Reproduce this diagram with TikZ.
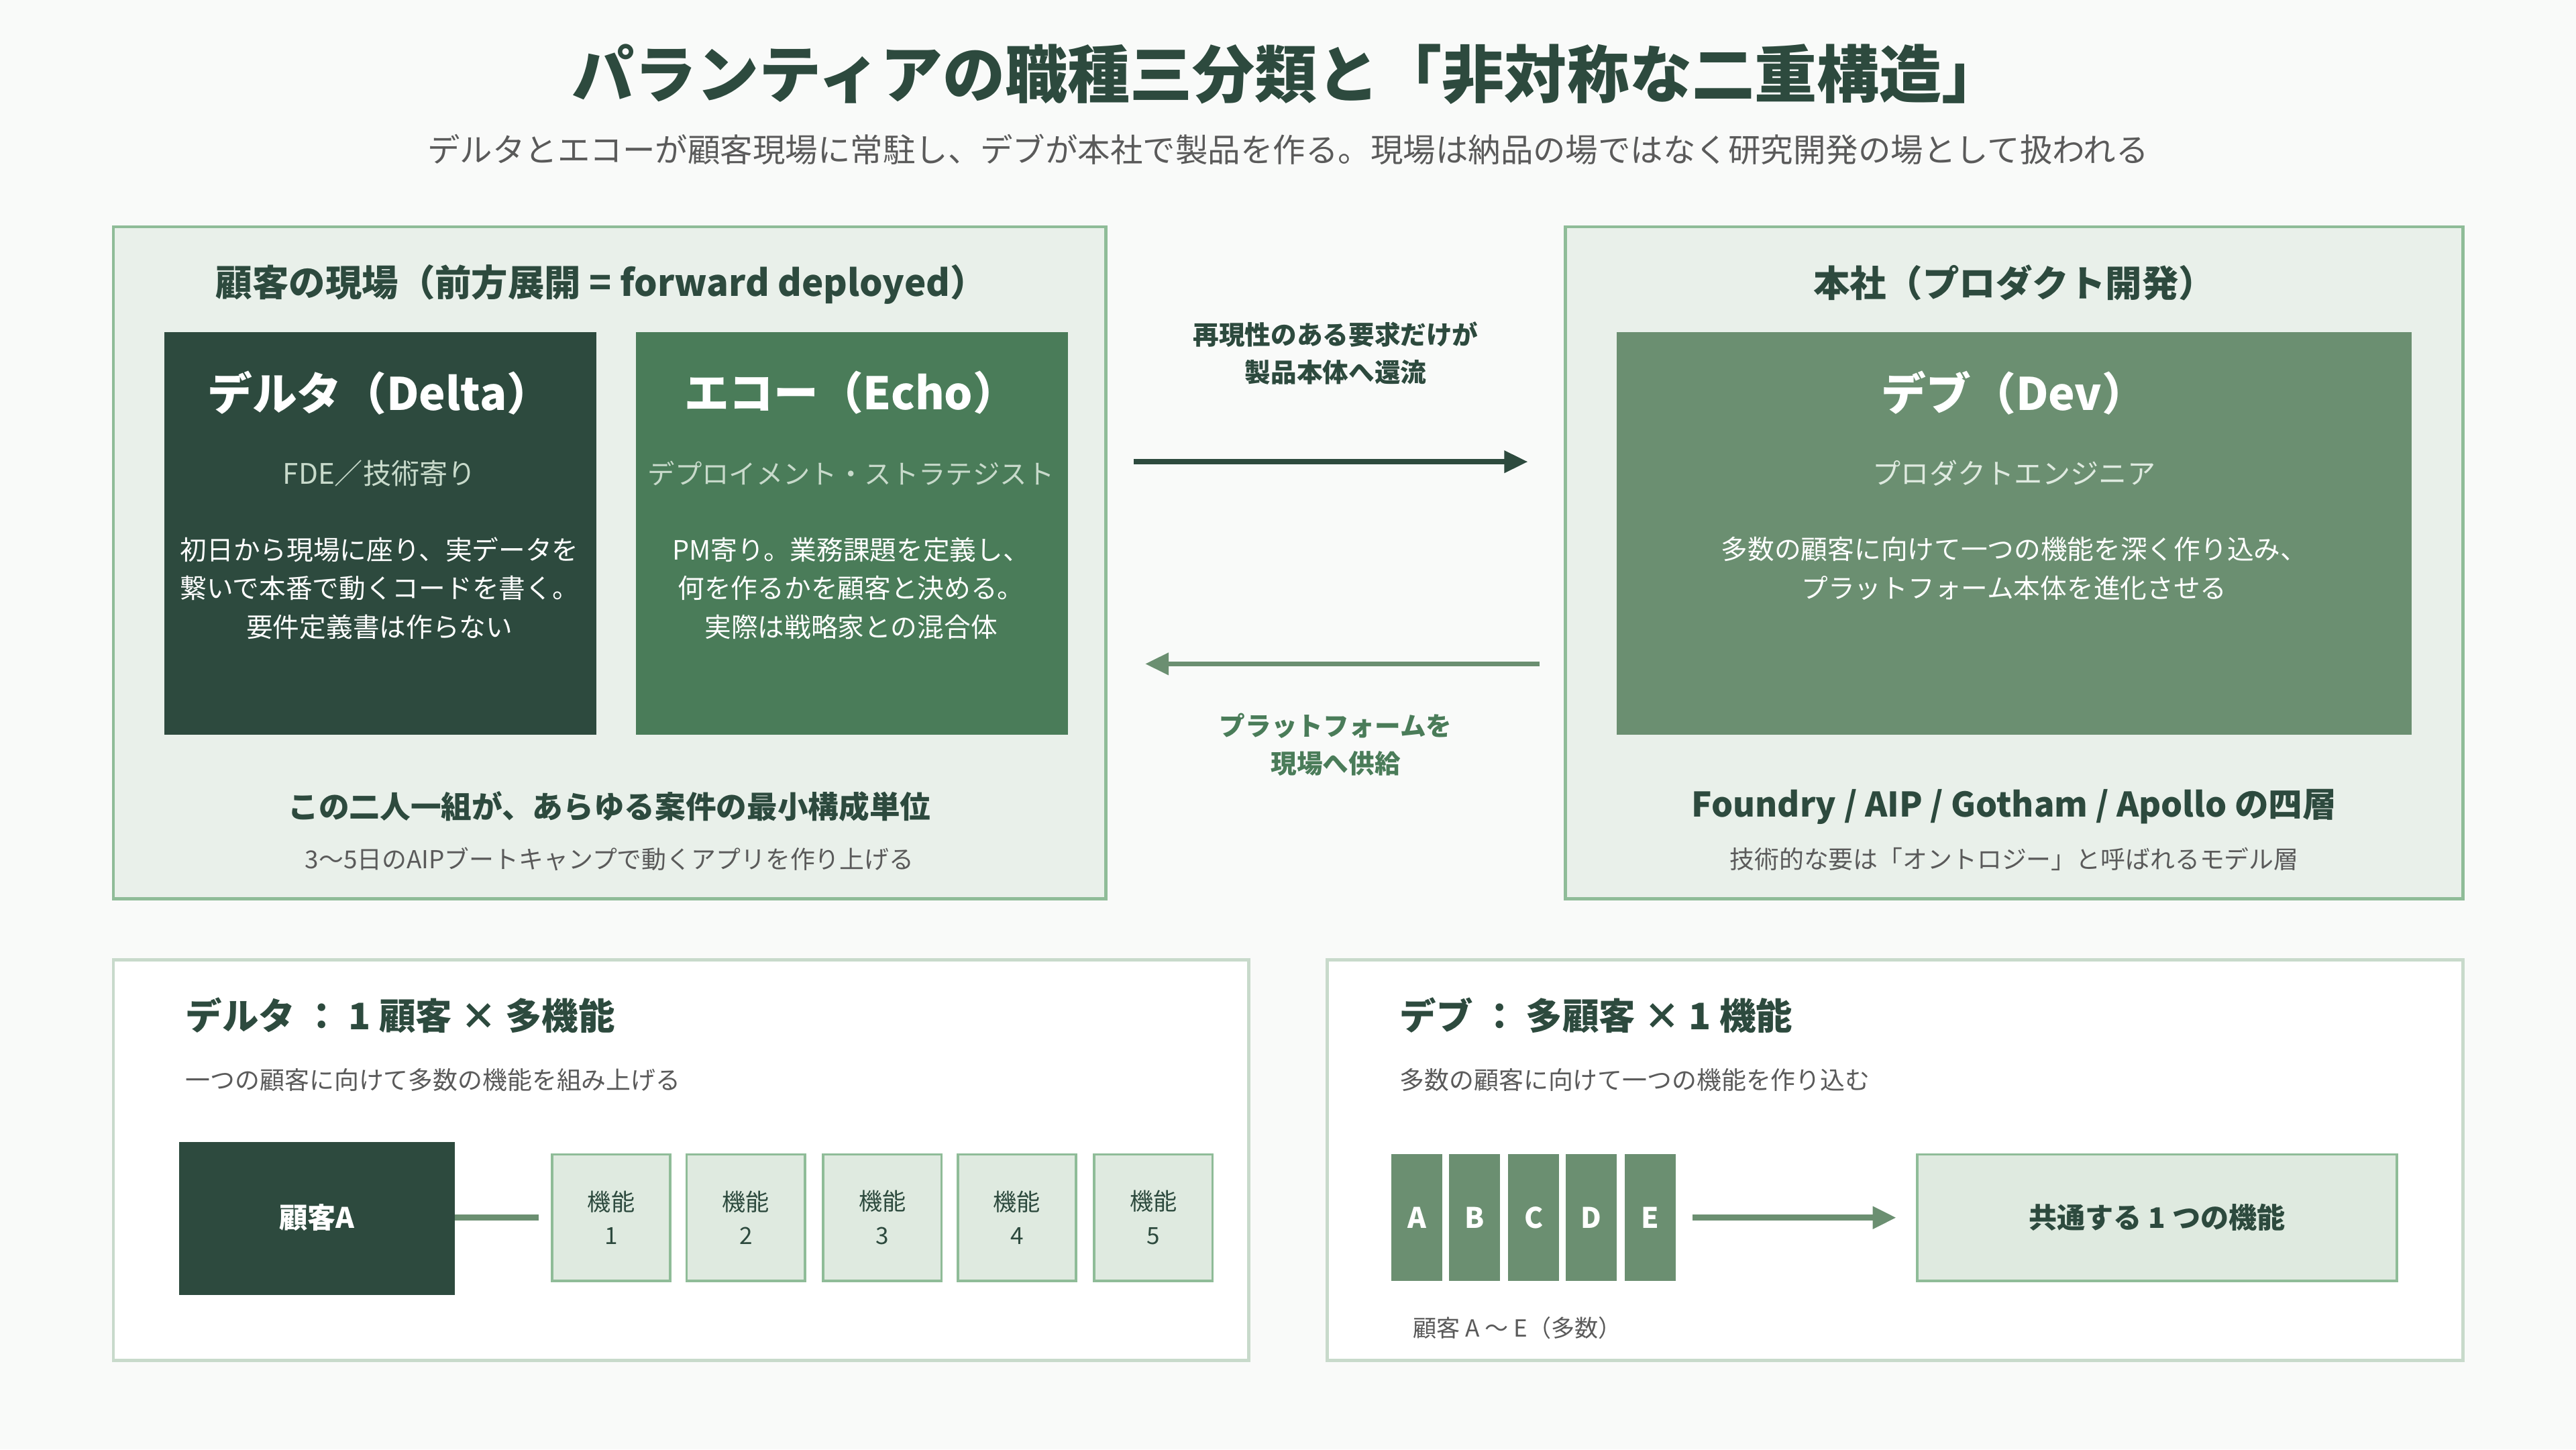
\documentclass[tikz,border=0pt]{standalone}
\usepackage{fontspec}
\setmainfont{Noto Sans CJK JP}
\usetikzlibrary{positioning,arrows.meta}
\definecolor{deep}{HTML}{2D4A3E}
\definecolor{mid}{HTML}{4A7C59}
\definecolor{sage}{HTML}{6B8F71}
\definecolor{pale}{HTML}{E9F0EA}
\definecolor{tint}{HTML}{DFEAE0}
\definecolor{rim}{HTML}{8FBC98}
\definecolor{haze}{HTML}{C8DACB}
\definecolor{ink}{HTML}{5A5A5A}
\definecolor{paper}{HTML}{F9FAF9}
\newcommand{\fs}[1]{\fontsize{#1}{\fpeval{#1*1.45}}\selectfont}
\tikzset{
  panel/.style={draw=rim, line width=1.4pt, fill=pale},
  card/.style={draw=haze, line width=1.4pt, fill=white},
  role/.style={inner sep=0pt, text=white},
  cell/.style={draw=rim, line width=1pt, fill=tint, inner sep=0pt, align=center, text=deep, font=\fs{10}},
  head/.style={font=\bfseries\fs{15.5}, text=deep},
  note/.style={font=\fs{10.5}, text=ink},
  flow/.style={line width=2.2pt, -{Triangle[length=10pt,width=9pt]}}
}
\begin{document}
\begin{tikzpicture}[x=0.0245cm, y=-0.0245cm]
  \fill[paper] (0,0) rectangle (1568,882);
  % title
  \node[font=\bfseries\fs{26.5}, text=deep] (title) at (784,45) {パランティアの職種三分類と「非対称な二重構造」};
  \node[font=\fs{13.8}, text=ink] (sub) at (784,91) {デルタとエコーが顧客現場に常駐し、デブが本社で製品を作る。現場は納品の場ではなく研究開発の場として扱われる};

  % field panel
  \draw[panel] (69,138) rectangle (673,547);
  \node[head] (fieldh) at (366,173) {顧客の現場（前方展開 = forward deployed）};
  \fill[deep] (100,202) rectangle (363,447);
  \fill[mid] (387,202) rectangle (650,447);
  \node[role, font=\bfseries\fs{19}] (delta) at (231,239) {デルタ（Delta）};
  \node[role, font=\fs{12}, text=haze] (deltas) at (231,288) {FDE／技術寄り};
  \node[role, font=\fs{11.3}, align=center] (deltab) at (231,358) {初日から現場に座り、実データを\\繋いで本番で動くコードを書く。\\要件定義書は作らない};
  \node[role, font=\bfseries\fs{19}] (echo) at (518,239) {エコー（Echo）};
  \node[role, font=\fs{11.5}, text=haze] (echos) at (518,288) {デプロイメント・ストラテジスト};
  \node[role, font=\fs{11.3}, align=center] (echob) at (518,358) {PM寄り。業務課題を定義し、\\何を作るかを顧客と決める。\\実際は戦略家との混合体};
  \node[head, font=\bfseries\fs{13}] (pair) at (371,491) {この二人一組が、あらゆる案件の最小構成単位};
  \node[note] (pairs) at (371,523) {3〜5日のAIPブートキャンプで動くアプリを作り上げる};

  % flows
  \node[font=\bfseries\fs{11}, text=deep, align=center] (upt) at (813,215) {再現性のある要求だけが\\製品本体へ還流};
  \coordinate (ua) at (690,281);
  \coordinate (ub) at (930,281);
  \draw[flow, deep] (ua) -- (ub);
  \coordinate (da) at (937,404);
  \coordinate (db) at (697,404);
  \draw[flow, sage] (da) -- (db);
  \node[font=\bfseries\fs{11}, text=mid, align=center] (downt) at (813,453) {プラットフォームを\\現場へ供給};

  % hq panel
  \draw[panel] (953,138) rectangle (1499,547);
  \node[head] (hqh) at (1226,172) {本社（プロダクト開発）};
  \fill[sage] (984,202) rectangle (1468,447);
  \node[role, font=\bfseries\fs{19}] (dev) at (1226,239) {デブ（Dev）};
  \node[role, font=\fs{12}, text=tint] (devs) at (1226,288) {プロダクトエンジニア};
  \node[role, font=\fs{11.3}, align=center] (devb) at (1226,346) {多数の顧客に向けて一つの機能を深く作り込み、\\プラットフォーム本体を進化させる};
  \node[head, font=\bfseries\fs{14.4}] (stack) at (1226,491) {Foundry / AIP / Gotham / Apollo の四層};
  \node[note] (stacks) at (1226,523) {技術的な要は「オントロジー」と呼ばれるモデル層};

  % one client, many features
  \draw[card] (69,584) rectangle (760,828);
  \node[head, anchor=west] (lh) at (108,618) {デルタ ： 1 顧客 × 多機能};
  \node[note, anchor=west] (ls) at (108,657) {一つの顧客に向けて多数の機能を組み上げる};
  \fill[deep] (109,695) rectangle (277,788);
  \node[text=white, font=\bfseries\fs{12}] (client) at (193,741) {顧客A};
  \coordinate (ce) at (277,741);
  \coordinate (cf) at (328,741);
  \foreach \i/\x in {1/372,2/454,3/537,4/619,5/702}
    \node[cell, minimum width=72*0.0245cm, minimum height=77*0.0245cm] (f\i) at (\x,741) {機能\\\i};
  \draw[sage, line width=2.5pt] (ce) -- (cf);

  % many clients, one feature
  \draw[card] (808,584) rectangle (1499,828);
  \node[head, anchor=west] (rh) at (847,618) {デブ ： 多顧客 × 1 機能};
  \node[note, anchor=west] (rs) at (847,657) {多数の顧客に向けて一つの機能を作り込む};
  \foreach \c/\x in {A/862.5,B/897.5,C/933.5,D/968.5,E/1004.5}
    \node[fill=sage, text=white, inner sep=0pt, minimum width=31*0.0245cm, minimum height=77*0.0245cm, font=\bfseries\fs{12}] (k\c) at (\x,741) {\c};
  \node[cell, minimum width=292*0.0245cm, minimum height=77*0.0245cm, font=\bfseries\fs{12}] (common) at (1313,741) {共通する 1 つの機能};
  \draw[flow, sage, line width=2.5pt] ([xshift=10*0.0245cm]kE.east) -- ([xshift=-12*0.0245cm]common.west);
  \node[note, anchor=west, font=\fs{10}] (kc) at (855,808) {顧客 A 〜 E（多数）};
\end{tikzpicture}
\end{document}
